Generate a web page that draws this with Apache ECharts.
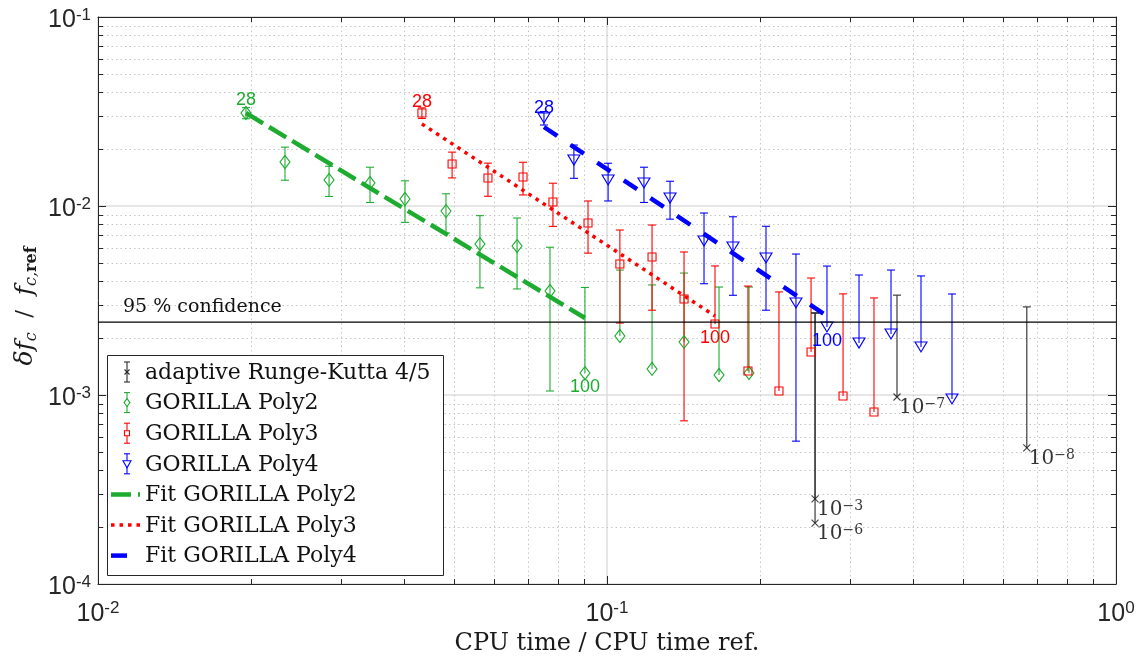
<!DOCTYPE html>
<html><head><meta charset="utf-8">
<script src="https://cdn.jsdelivr.net/npm/echarts@6/dist/echarts.min.js"></script>
<style>html,body{margin:0;padding:0;background:#fff}#c{width:1146px;height:661px}</style>
</head><body><div id="c"></div>
<script>
// ---------------- data ----------------
const rkX = [0.2563, 0.2563, 0.3713, 0.668];
const rkY = [0.000282, 0.000210, 0.000976, 0.000525];
const rkErr = [0.00244, 0.0025, 0.0024, 0.0024];
const rkTolExp = ['−3', '−6', '−7', '−8'];

const poly2X = [0.01953,0.0233,0.02844,0.03423,0.0401,0.04827,0.05628,0.06657,0.07727,0.0905,0.1060,0.1226,0.1417,0.166,0.1901];
const poly2Y = [0.03105,0.01709,0.01373,0.01324,0.01089,0.0094,0.00629,0.00614,0.00355,0.001307,0.002052,0.001373,0.001908,0.001276,0.001307];
const poly2Err = [0.0021,0.0034,0.0025,0.0028,0.0027,0.0022,0.0026,0.0025,0.0025,0.0024,0.00253,0.00245,0.00251,0.00245,0.00242];

const poly3X = [0.04329,0.04962,0.05836,0.06839,0.07831,0.09177,0.1060,0.1226,0.1417,0.1630,0.1892,0.2177,0.2517,0.2909,0.3346];
const poly3Y = [0.03105,0.01668,0.01406,0.01424,0.01050,0.00813,0.004933,0.00537,0.00322,0.002377,0.00134,0.00105,0.001689,0.000988,0.000813];
const poly3Err = [0.0020,0.0026,0.0028,0.0028,0.0027,0.0025,0.00253,0.00256,0.00249,0.00244,0.00243,0.00246,0.00247,0.00244,0.00245];

const poly4X = [0.07519,0.0861,0.1005,0.1182,0.1330,0.1551,0.1768,0.2053,0.2351,0.2705,0.3127,0.3614,0.4139,0.4762];
const poly4Y = [0.02922,0.01751,0.01373,0.01324,0.01102,0.00653,0.00607,0.00531,0.00307,0.00229,0.001884,0.002103,0.001795,0.000953];
const poly4Err = [0.0024,0.0035,0.0031,0.0028,0.0025,0.00265,0.0027,0.0025,0.0025,0.00252,0.00243,0.00248,0.00247,0.00247];

const polyLabelIdx = [0, 9];
const polyLabelText = ['28', '100'];

const fit2 = [[0.01953, 0.03105], [0.0905, 0.002555]];
const fit3 = [[0.04329, 0.02716], [0.163, 0.002618]];
const fit4 = [[0.07519, 0.02618], [0.2705, 0.002618]];

const confidenceLevel = 0.00243;
const confidenceText = '95 % confidence';

const xMinorTicks = [0.02,0.03,0.04,0.05,0.06,0.07,0.08,0.09,0.2,0.3,0.4,0.5,0.6,0.7,0.8,0.9];
const yMinorTicks = [0.0002,0.0003,0.0004,0.0005,0.0006,0.0007,0.0008,0.0009,0.002,0.003,0.004,0.005,0.006,0.007,0.008,0.009,0.02,0.03,0.04,0.05,0.06,0.07,0.08,0.09];

const legendNames = ['adaptive Runge-Kutta 4/5','GORILLA Poly2','GORILLA Poly3','GORILLA Poly4','Fit GORILLA Poly2','Fit GORILLA Poly3','Fit GORILLA Poly4'];
const xTitle = 'CPU time / CPU time ref.';

// ---------------- styles ----------------
const COL_RK = '#2a2a2a';
const COL_G = 'rgb(30,172,48)';
const COL_R = '#ff0000';
const COL_B = '#0000ff';
const AX = '#262626';
const SERIF = 'DejaVu Serif';
const SANS = 'Liberation Sans';

const DASH_G = [20, 7], DASH_R = [3.5, 5], DASH_B = [16, 16];

const chart = echarts.init(document.getElementById('c'));

function tickLabel(v) {
  const e = Math.round(Math.log10(v));
  return '{b|10}{s|' + e + '}';
}
const tickRich = {
  b: {fontFamily: SANS, fontSize: 25, lineHeight: 28, color: AX},
  s: {fontFamily: SANS, fontSize: 17, lineHeight: 14, verticalAlign: 'top', color: AX}
};

function errSeries(name, xs, ys, es, color, lw) {
  return {
    type: 'custom', name: name, coordinateSystem: 'cartesian2d', z: 3, silent: true,
    data: xs.map((x, i) => [x, ys[i], es[i]]),
    encode: {x: 0, y: 1},
    renderItem: function (params, api) {
      const x = api.value(0), y = api.value(1), e = api.value(2);
      const pT = api.coord([x, y + e]);
      const pM = api.coord([x, y]);
      const lo = y - e;
      const pB = lo > 0 ? api.coord([x, lo]) : pM;
      const cw = 4;
      const st = () => ({stroke: color, lineWidth: lw, fill: null});
      const ch = [
        {type: 'line', shape: {x1: pT[0], y1: pT[1], x2: pB[0], y2: pB[1]}, style: st()},
        {type: 'line', shape: {x1: pT[0] - cw, y1: pT[1], x2: pT[0] + cw, y2: pT[1]}, style: st()}
      ];
      if (lo > 0) ch.push({type: 'line', shape: {x1: pB[0] - cw, y1: pB[1], x2: pB[0] + cw, y2: pB[1]}, style: st()});
      return {type: 'group', children: ch};
    }
  };
}

function markerSeries(name, xs, ys, symbol, size, color, topOff, botOff) {
  return {
    type: 'scatter', name: name, z: 4, silent: true,
    symbol: symbol, symbolSize: size,
    itemStyle: {color: 'rgba(255,255,255,0)', borderColor: color, borderWidth: 1.1, opacity: 1},
    data: xs.map((x, i) => {
      const item = {value: [x, ys[i]]};
      const li = polyLabelIdx.indexOf(i);
      if (li >= 0) {
        item.label = {
          show: true, formatter: polyLabelText[li], color: color,
          fontFamily: SANS, fontSize: 18,
          position: li === 0 ? 'top' : 'bottom', distance: 0,
          offset: [0, li === 0 ? topOff : botOff]
        };
      }
      return item;
    })
  };
}

const rkMarkers = {
  type: 'scatter', name: legendNames[0], z: 4, silent: true,
  symbol: 'path://M0,0L10,10M10,0L0,10', symbolSize: 7,
  itemStyle: {color: 'rgba(0,0,0,0)', borderColor: '#111', borderWidth: 1.1},
  data: rkX.map((x, i) => ({
    value: [x, rkY[i]],
    label: {
      show: true, formatter: '{b|10}{s|' + rkTolExp[i] + '}',
      position: 'right', distance: 0, offset: [-2, 11],
      rich: {
        b: {fontFamily: SERIF, fontSize: 20, lineHeight: 22, color: '#000'},
        s: {fontFamily: SERIF, fontSize: 14, lineHeight: 12, verticalAlign: 'top', color: '#000'}
      }
    }
  }))
};

function fitSeries(name, data, color, dash, w) {
  return {
    type: 'line', name: name, data: data, z: 5, silent: true,
    symbol: 'none', showSymbol: false,
    lineStyle: {color: color, width: w, type: dash, cap: 'butt'}
  };
}

const minorGrid = {
  type: 'custom', name: 'minor', coordinateSystem: 'cartesian2d', z: 0, silent: true, clip: false,
  data: xMinorTicks.map(v => [v, 0.001, 0]).concat(yMinorTicks.map(v => [0.1, v, 1])),
  encode: {x: 0, y: 1},
  renderItem: function (params, api) {
    const cs = params.coordSys;
    const flag = api.value(2);
    const tl = 5;
    const dot = {stroke: '#c6c6c6', lineWidth: 1, lineDash: [1.5, 3]};
    const tk = () => ({stroke: AX, lineWidth: 1});
    if (flag === 0) {
      const px = Math.round(api.coord([api.value(0), 0.001])[0]) + 0.5;
      const y0 = cs.y, y1 = cs.y + cs.height;
      return {type: 'group', children: [
        {type: 'line', shape: {x1: px, y1: y0, x2: px, y2: y1}, style: dot},
        {type: 'line', shape: {x1: px, y1: y1, x2: px, y2: y1 - tl}, style: tk()},
        {type: 'line', shape: {x1: px, y1: y0, x2: px, y2: y0 + tl}, style: tk()}
      ]};
    } else {
      const py = Math.round(api.coord([0.1, api.value(1)])[1]) + 0.5;
      const x0 = cs.x, x1 = cs.x + cs.width;
      return {type: 'group', children: [
        {type: 'line', shape: {x1: x0, y1: py, x2: x1, y2: py}, style: dot},
        {type: 'line', shape: {x1: x0, y1: py, x2: x0 + tl, y2: py}, style: tk()},
        {type: 'line', shape: {x1: x1, y1: py, x2: x1 - tl, y2: py}, style: tk()}
      ]};
    }
  }
};

const confLine = {
  type: 'line', name: 'conf', data: [[0.01, confidenceLevel], [1, confidenceLevel]],
  z: 6, silent: true, symbol: 'none',
  lineStyle: {color: '#000', width: 1.2}
};

function baseAxis(extra) {
  return Object.assign({
    type: 'log', logBase: 10,
    axisLine: {show: true, onZero: false, lineStyle: {color: AX, width: 1}},
    axisTick: {show: true, inside: true, length: 8, lineStyle: {color: AX}},
    minorTick: {show: false}, minorSplitLine: {show: false}
  }, extra);
}

// ---------------- legend (graphic) ----------------
const legendX = 107, legendY = 355, legendW = 336, legendH = 220, rowY0 = 372, rowDy = 30.6;
const legendKinds = [
  {kind: 'err', color: COL_RK, mark: 'x'},
  {kind: 'err', color: COL_G, mark: 'diamond'},
  {kind: 'err', color: COL_R, mark: 'square'},
  {kind: 'err', color: COL_B, mark: 'tri'},
  {kind: 'line', color: COL_G, dash: DASH_G, w: 4.5},
  {kind: 'line', color: COL_R, dash: DASH_R, w: 3.5},
  {kind: 'line', color: COL_B, dash: DASH_B, w: 4.5}
];
const legendEls = [{
  type: 'rect', z: 100, shape: {x: legendX + 0.5, y: legendY + 0.5, width: legendW, height: legendH},
  style: {fill: '#fff', stroke: AX, lineWidth: 1}
}];
legendKinds.forEach((k, i) => {
  const y = rowY0 + i * rowDy;
  const cx = 127;
  if (k.kind === 'err') {
    const st = () => ({stroke: k.color, lineWidth: 1.1, fill: null});
    legendEls.push({type: 'line', z: 101, shape: {x1: cx, y1: y - 10, x2: cx, y2: y + 10}, style: st()});
    legendEls.push({type: 'line', z: 101, shape: {x1: cx - 3, y1: y - 10, x2: cx + 3, y2: y - 10}, style: st()});
    legendEls.push({type: 'line', z: 101, shape: {x1: cx - 3, y1: y + 10, x2: cx + 3, y2: y + 10}, style: st()});
    const ms = {stroke: k.color, lineWidth: 1.1, fill: '#fff'};
    if (k.mark === 'x') {
      legendEls.push({type: 'line', z: 102, shape: {x1: cx - 2.5, y1: y - 2.5, x2: cx + 2.5, y2: y + 2.5}, style: st()});
      legendEls.push({type: 'line', z: 102, shape: {x1: cx - 2.5, y1: y + 2.5, x2: cx + 2.5, y2: y - 2.5}, style: st()});
    } else if (k.mark === 'diamond') {
      legendEls.push({type: 'polygon', z: 102, shape: {points: [[cx, y - 4], [cx + 3, y], [cx, y + 4], [cx - 3, y]]}, style: ms});
    } else if (k.mark === 'square') {
      legendEls.push({type: 'rect', z: 102, shape: {x: cx - 2.5, y: y - 2.5, width: 5, height: 5}, style: ms});
    } else {
      legendEls.push({type: 'polygon', z: 102, shape: {points: [[cx - 4, y - 3], [cx + 4, y - 3], [cx, y + 4]]}, style: ms});
    }
  } else {
    legendEls.push({type: 'line', z: 101, shape: {x1: 111, y1: y, x2: 140, y2: y},
      style: {stroke: k.color, lineWidth: k.w, lineDash: k.dash}});
  }
  legendEls.push({type: 'text', z: 101, x: 145, y: y + 1,
    style: {text: legendNames[i], fontFamily: SERIF, fontSize: 22, fill: '#111', verticalAlign: 'middle', align: 'left'}});
});

const option = {
  animation: false,
  backgroundColor: '#fff',
  grid: {left: 98, right: 30, top: 17, bottom: 77, containLabel: false},
  xAxis: [
    baseAxis({
      min: 0.01, max: 1, splitNumber: 2, position: 'bottom',
      splitLine: {show: true, lineStyle: {color: '#dedede', width: 1.5}},
      axisLabel: {formatter: tickLabel, rich: tickRich, margin: 16, showMinLabel: true, showMaxLabel: true},
      name: xTitle, nameLocation: 'middle', nameGap: 42,
      nameTextStyle: {fontFamily: SERIF, fontSize: 24, color: '#1a1a1a'}
    }),
    baseAxis({
      min: 0.01, max: 1, splitNumber: 2, position: 'top',
      splitLine: {show: false}, axisLabel: {show: false}
    })
  ],
  yAxis: [
    baseAxis({
      min: 0.0001, max: 0.1, splitNumber: 3, position: 'left',
      splitLine: {show: true, lineStyle: {color: '#dedede', width: 1.5}},
      axisLabel: {formatter: tickLabel, rich: tickRich, margin: 7, padding: [7, 0, 0, 0], showMinLabel: true, showMaxLabel: true}
    }),
    baseAxis({
      min: 0.0001, max: 0.1, splitNumber: 3, position: 'right',
      splitLine: {show: false}, axisLabel: {show: false}
    })
  ],
  graphic: {elements: legendEls.concat([
    {type: 'text', z: 50, x: 123, y: 307,
      style: {text: confidenceText, fontFamily: SERIF, fontSize: 19, fill: '#111', verticalAlign: 'middle', align: 'left'}},
    {type: 'text', z: 50, x: 25, y: 306, rotation: Math.PI / 2,
      style: {
        text: '{i|δf}{s|c}{n|  /  }{i|f}{s|c,}{sb|ref}',
        align: 'center', verticalAlign: 'middle',
        rich: {
          i: {fontFamily: SERIF, fontStyle: 'italic', fontSize: 25, lineHeight: 30, fill: '#1a1a1a'},
          n: {fontFamily: SERIF, fontSize: 23, lineHeight: 30, fill: '#1a1a1a'},
          s: {fontFamily: SERIF, fontStyle: 'italic', fontSize: 16, lineHeight: 18, verticalAlign: 'bottom', fill: '#1a1a1a'},
          sb: {fontFamily: SERIF, fontWeight: 'bold', fontSize: 16, lineHeight: 18, verticalAlign: 'bottom', fill: '#1a1a1a'}
        }
      }}
  ])},
  series: [
    minorGrid,
    errSeries(legendNames[1], poly2X, poly2Y, poly2Err, COL_G, 1.1),
    errSeries(legendNames[2], poly3X, poly3Y, poly3Err, COL_R, 1.1),
    errSeries(legendNames[3], poly4X, poly4Y, poly4Err, COL_B, 1.1),
    errSeries(legendNames[0], rkX, rkY, rkErr, COL_RK, 1.1),
    markerSeries(legendNames[1], poly2X, poly2Y, 'diamond', [10, 13], COL_G, 3, -2),
    markerSeries(legendNames[2], poly3X, poly3Y, 'rect', 8, COL_R, 3, 1),
    markerSeries(legendNames[3], poly4X, poly4Y, 'path://M0,0L10,0L5,9Z', [12, 10], COL_B, 5, 0),
    rkMarkers,
    fitSeries(legendNames[4], fit2, COL_G, DASH_G, 4.5),
    fitSeries(legendNames[5], fit3, COL_R, DASH_R, 3.5),
    fitSeries(legendNames[6], fit4, COL_B, DASH_B, 4.5),
    confLine
  ]
};
chart.setOption(option);
</script>
</body></html>
